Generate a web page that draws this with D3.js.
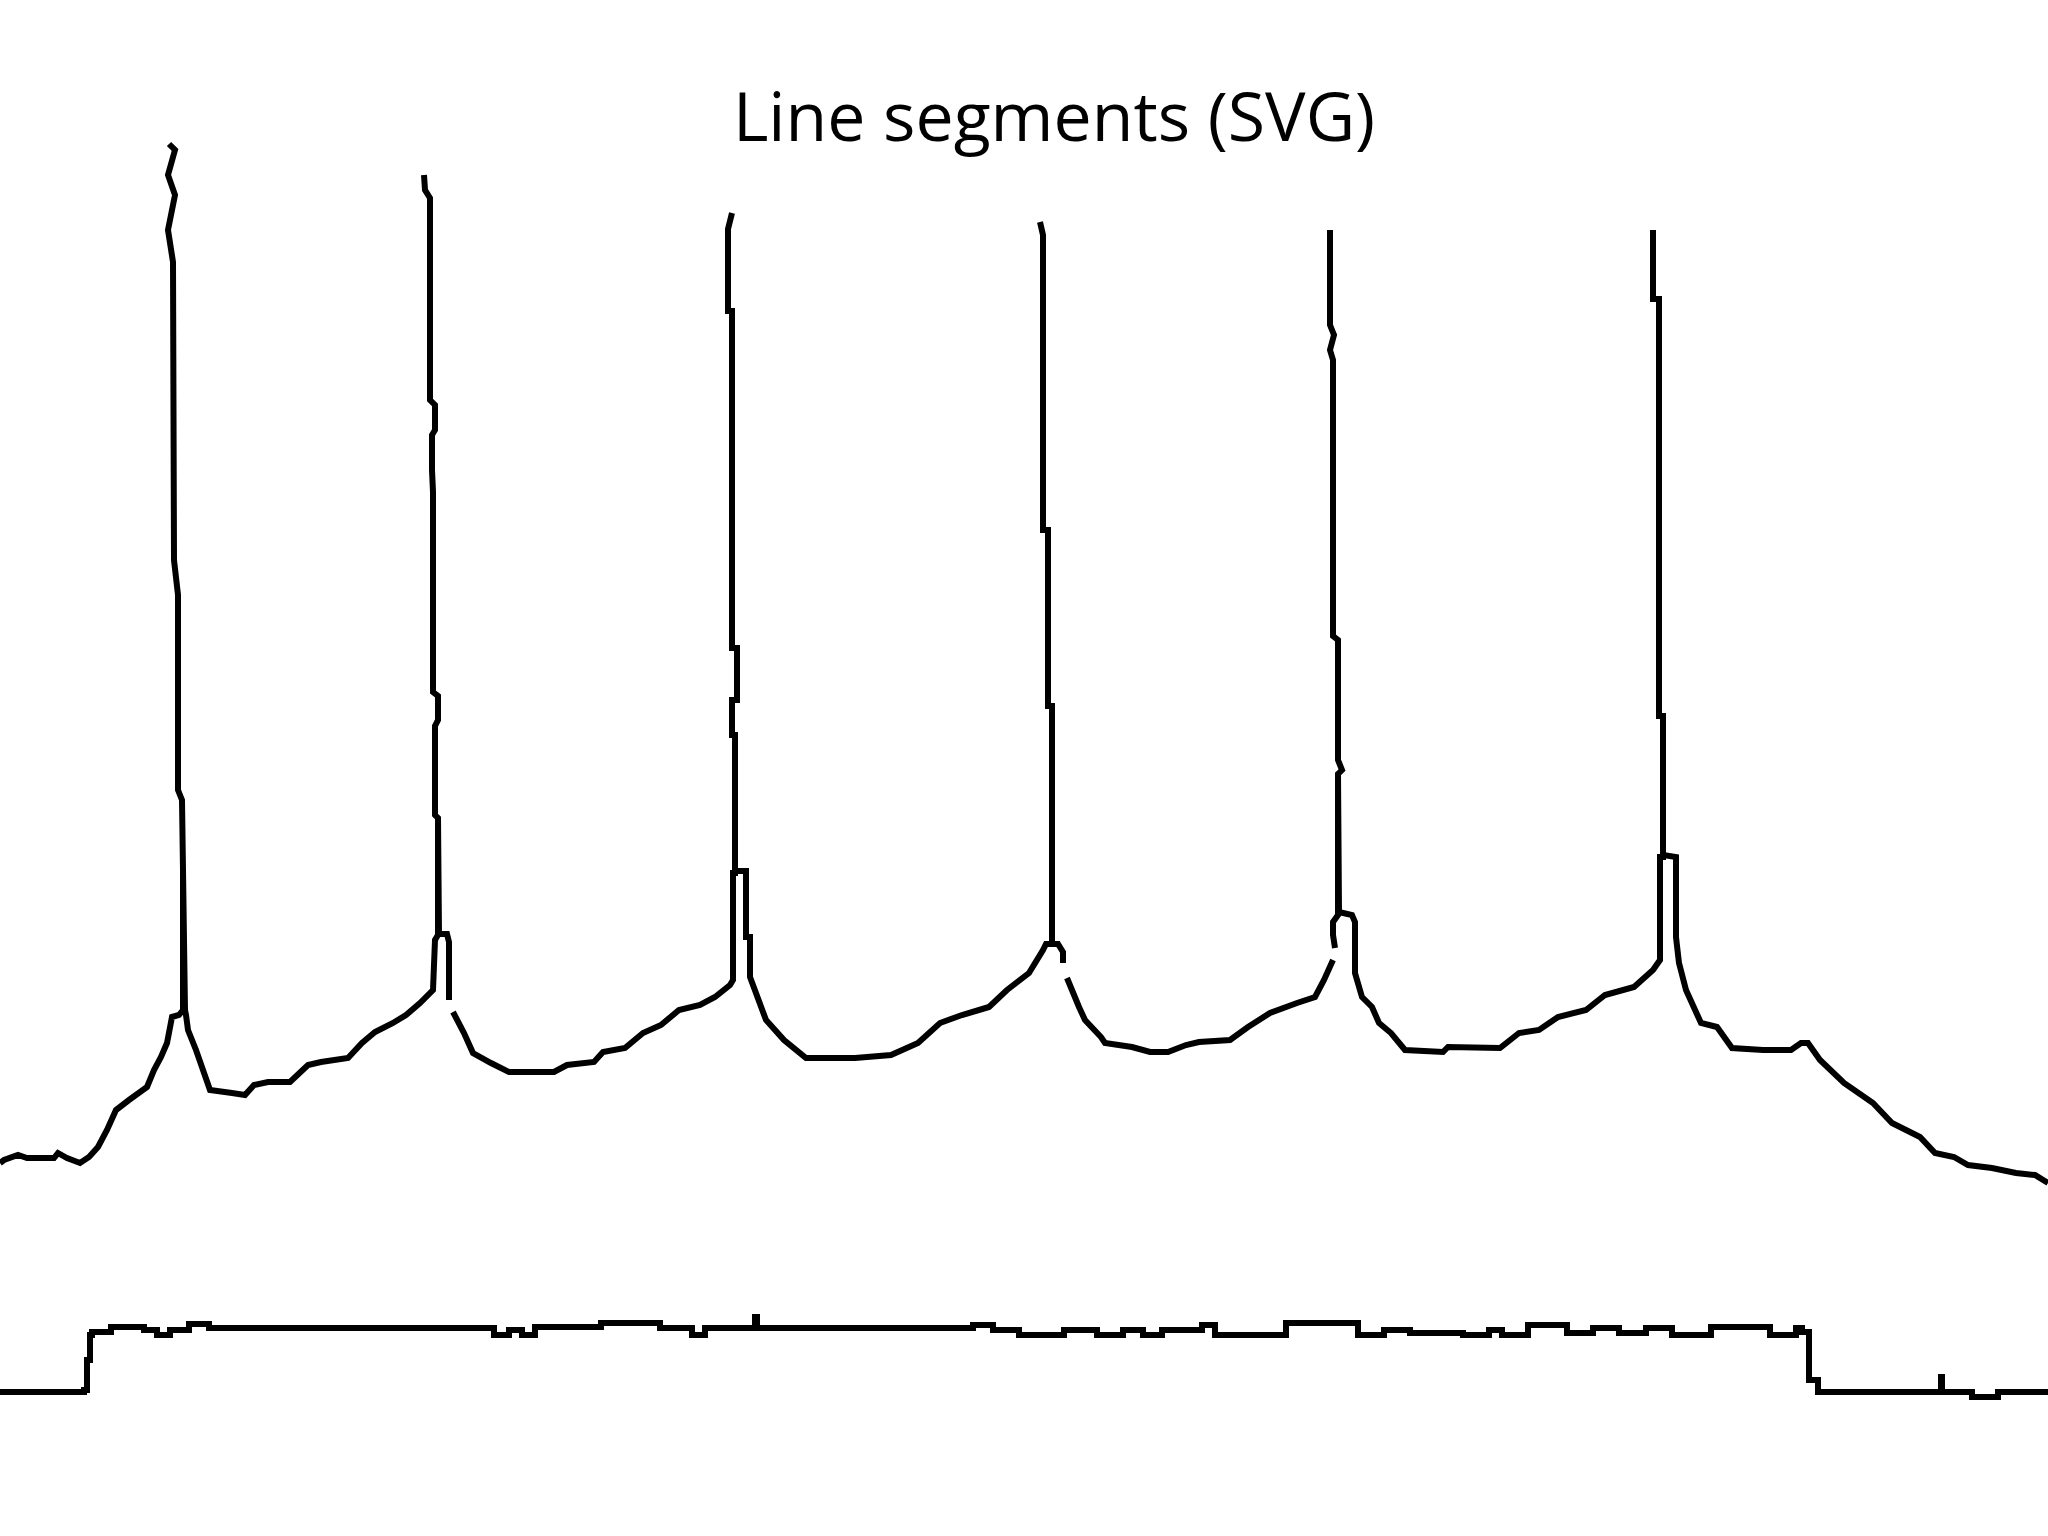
<!DOCTYPE html>
<html>
<head>
<meta charset="utf-8">
<script src="https://cdn.jsdelivr.net/npm/d3@7"></script>
<style>
  html, body { margin: 0; padding: 0; background: #ffffff; }
  svg { display: block; }
</style>
</head>
<body>
<script>
// ---------- data ----------
const titleText = "Line segments (SVG)";

// Membrane potential trace, [time (ms), voltage (mV)], split where the trace has small breaks.
const traceStartToSpike2 = [
  [0,-70.3],[2,-70],[9,-69.5],[13.5,-69.8],[27,-69.8],[29,-69.3],[33.5,-69.8],[40,-70.3],[44.5,-69.7],[49,-68.7],
  [53.5,-67],[58,-65],[64.5,-64],[73.5,-62.7],[77,-61],[80.5,-59.7],[83.5,-58.3],[86,-55.7],[89.5,-55.5],[91.5,-55],
  // spike 1
  [91.5,-41],[91,-34],[89,-33],[89,-13.5],[87,-10],[86.5,19.8],[84,23],[87.5,26.5],[84,28.5],[87.5,31],[84.5,31.6],
  [87.5,31],[84,28.5],[87.5,26.5],[84,23],[86.5,19.8],[87,-10],[89,-13.5],[89,-33],[91,-34],[91.5,-41],[92.5,-55],
  [93,-55.5],[94,-57],[98,-59],[105,-63],[116,-63.3],[122.5,-63.5],[127,-62.5],[134,-62.2],[145,-62.2],[154,-60.5],
  [160.5,-60.2],[174,-59.8],[181,-58.3],[187.5,-57.2],[196.5,-56.3],[203,-55.5],[210,-54.3],[216.5,-53],
  // spike 2
  [217.5,-48],[219,-47.5],[219,-35.8],[217.5,-35.5],[217.5,-26.6],[219,-26],[219,-23.6],[216.5,-23.2],[216.5,-3.2],
  [216,-1],[216,2.5],[217.5,3],[217.5,5.5],[215,6],[215,26.2],[212.5,27],[212,28.5],
  [212.5,27],[215,26.2],[215,6],[217.5,5.5],[217.5,3],[216,2.5],[216,-1],[216.5,-3.2],[216.5,-23.2],[219,-23.6],
  [219,-26],[217.5,-26.6],[217.5,-35.5],[219,-35.8],[219.5,-47.4],[223.5,-47.4],[224.5,-48.2],[224.5,-54]
];
const traceSpike2ToSpike4 = [
  [226.5,-55.2],[232,-57.3],[236.5,-59.3],[245.5,-60.3],[254.5,-61.2],[277,-61.2],[283.5,-60.5],[297,-60.2],
  [301.5,-59.2],[312.5,-58.8],[321.5,-57.3],[330.5,-56.5],[339.5,-55],[350,-54.5],[357.5,-53.7],[365,-52.5],
  // spike 3
  [366.5,-52],[366.5,-41.3],[367.5,-41.3],[367.5,-27.5],[366,-27.5],[366,-24],[368.5,-24],[368.5,-18.8],[366,-18.8],
  [366,14.9],[364,14.9],[364,23.1],[366,24.7],
  [364,23.1],[364,14.9],[366,14.9],[366,-18.8],[368.5,-18.8],[368.5,-24],[366,-24],[366,-27.5],[367.5,-27.5],
  [367.5,-41.1],[373,-41.1],[373,-47.7],[375,-47.7],[375,-51.7],[383,-56],[392,-58],[403,-59.8],[427.5,-59.8],
  [445.5,-59.5],[459,-58.3],[470,-56.3],[481,-55.5],[494.5,-54.7],[503.5,-53],[514.5,-51.3],[521.5,-49],
  // spike 4
  [523,-48.4],[526,-48.4],[526,-24.6],[524,-24.6],[524,-7],[521.5,-7],[521.5,22.5],[520,23.8],
  [521.5,22.5],[521.5,-7],[524,-7],[524,-24.6],[526,-24.6],[526,-48.4],[529,-48.4],[531.5,-49.2],[531.5,-50.3]
];
const traceSpike4ToSpike5 = [
  [533.5,-51.8],[539.5,-54.7],[542.5,-56],[550.5,-57.7],[552.5,-58.3],[566,-58.7],[575,-59.2],[584,-59.2],
  [593,-58.5],[599.5,-58.2],[615,-58],[624,-56.7],[635,-55.3],[648.5,-54.3],[657.5,-53.7],[662,-52],[666.5,-50]
];
const traceSpike5ToEnd = [
  [667.5,-48.8],[666.5,-47.5],[666.5,-46.2],[669,-45.5],
  // spike 5
  [669,-31.4],[671,-31],[669,-30],[669,-18],[666.5,-17.6],[666.5,10],[665,11],[667,12.5],[665,13.5],[665,23],
  [665,13.5],[667,12.5],[665,11],[666.5,10],[666.5,-17.6],[669,-18],[669,-30],[671,-31],[669,-31.4],[669.5,-45.2],
  [676,-45.5],[677.5,-46.2],[677.5,-51.3],[681,-53.7],[686,-54.7],[689.5,-56.3],[695.5,-57.3],[702.5,-59],
  [721.5,-59.2],[724,-58.7],[750,-58.8],[759.5,-57.3],[769.5,-57],[779,-55.7],[793,-55],[802.5,-53.5],[817,-52.7],
  [826.5,-51],[830,-50],
  // spike 6
  [830,-39.7],[831.5,-39.7],[831.5,-25.6],[829.5,-25.6],[829.5,16.1],[826.5,16.1],[826.5,23],
  [826.5,16.1],[829.5,16.1],[829.5,-25.6],[831.5,-25.6],[831.5,-39.5],[838,-39.7],[838,-47.7],[839.5,-50.3],
  [843,-53],[850.5,-56.3],[858.5,-56.7],[866,-58.8],[881.5,-59],[895.5,-59],[900.5,-58.3],[904,-58.3],[910,-60],
  [922,-62.3],[936.5,-64.3],[946,-66.3],[960,-67.7],[967.5,-69.3],[977,-69.7],[984,-70.5],[996,-70.8],
  [1008,-71.3],[1017.5,-71.5],[1024,-72.3]
];

// Injected current step: time (ms) and current (pA)
const currentTimeMs = [
  0, 40.5, 42, 43.5, 45, 46, 49, 55.5, 65.5, 72, 78.5, 85, 94.5, 104.5, 241.5, 247, 254.5, 261, 267.5, 300.5,
  323, 330, 346, 352.5, 377, 377.5, 378.5, 476.5, 486.5, 496.5, 509.5, 522.5, 532, 548.5, 561.5, 571.5, 581, 601,
  607.5, 633.5, 643, 669.5, 679, 692, 705, 718.5, 731.5, 744.5, 751, 764, 783.5, 796.5, 809.5, 823, 836, 855.5,
  875, 885, 898, 901, 904.5, 909, 970, 970.5, 971, 983, 986, 996, 999, 1024
];
const currentPa = [
  0, 0, 8, 128, 228, 240, 240, 260, 260, 248, 228, 248, 272, 256, 256, 228, 248, 228, 260, 276,
  276, 256, 228, 256, 256, 300, 256, 256, 268, 248, 228, 228, 248, 228, 248, 228, 248, 268,
  228, 228, 276, 276, 228, 248, 236, 236, 228, 248, 228, 268, 236, 256, 236, 256, 228, 260,
  260, 228, 256, 240, 48, 0, 0, 60, 0, 0, -20, -20, 0, 0
];

// ---------- drawing ----------
const W = 2048, H = 1536;
const svg = d3.select("body").append("svg")
  .attr("width", W).attr("height", H)
  .attr("viewBox", `0 0 ${W} ${H}`)
  .style("background", "#ffffff");

const x = d3.scaleLinear().domain([0, 1024]).range([0, 2048]);
const yV = d3.scaleLinear().domain([-70, 30]).range([1160, 160]);
const yI = d3.scaleLinear().domain([0, 250]).range([1392, 1329.5]);

const lineV = d3.line()
  .x(d => x(d[0]))
  .y(d => yV(d[1]));

const lineI = d3.line()
  .curve(d3.curveStepAfter)
  .x(d => x(d.t))
  .y(d => yI(d.i));

const strokeStyle = sel => sel
  .attr("fill", "none")
  .attr("stroke", "#000")
  .attr("stroke-width", 6)
  .attr("stroke-linejoin", "miter")
  .attr("stroke-miterlimit", 2)
  .attr("stroke-linecap", "butt");

const voltageSegments = [traceStartToSpike2, traceSpike2ToSpike4, traceSpike4ToSpike5, traceSpike5ToEnd];

svg.append("g").attr("class", "voltage")
  .selectAll("path")
  .data(voltageSegments)
  .join("path")
  .attr("d", lineV)
  .call(strokeStyle);

const iData = currentTimeMs.map((t, k) => ({ t, i: currentPa[k] }));
svg.append("path")
  .attr("class", "current")
  .datum(iData)
  .attr("d", lineI)
  .call(strokeStyle);

svg.append("text")
  .attr("x", 1054)
  .attr("y", 141)
  .attr("text-anchor", "middle")
  .attr("font-family", "'Open Sans', 'Noto Sans', sans-serif")
  .attr("font-size", 68)
  .attr("fill", "#000")
  .text(titleText);
</script>
</body>
</html>
